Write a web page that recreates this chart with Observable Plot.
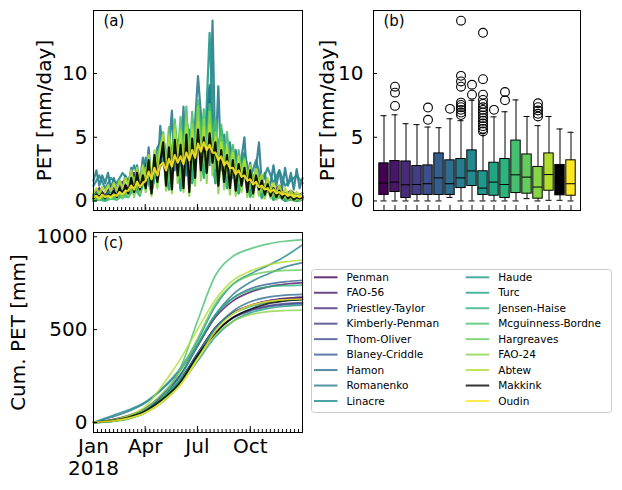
<!DOCTYPE html>
<html>
<head>
<meta charset="utf-8">
<script src="https://cdn.jsdelivr.net/npm/d3@7"></script>
<script src="https://cdn.jsdelivr.net/npm/@observablehq/plot@0.6"></script>
<style>
  body { margin: 0; background: #fff; }
  #fig { position: relative; width: 622px; height: 490px; font-family: "DejaVu Sans", sans-serif; }
</style>
</head>
<body>
<div id="fig"></div>
<script>
// ---- Methods (drawing order) ----
const methods = ["Penman", "FAO-56", "Priestley-Taylor", "Kimberly-Penman", "Thom-Oliver",
  "Blaney-Criddle", "Hamon", "Romanenko", "Linacre", "Haude", "Turc", "Jensen-Haise",
  "Mcguinness-Bordne", "Hargreaves", "FAO-24", "Abtew", "Makkink", "Oudin"];

// ---- Daily PET 2018 [mm/day], sampled evenly through the year ----
const petPenman = [0.3,0.8,0.2,0.9, 0.5,1.3, 0.8,2.0,1.0, 2.8,1.2,3.4, 4.2,1.4,4.8, 1.2,5.4,2.0, 5.8,2.4,5.2, 2.0,4.4,1.6, 3.4,1.0,2.8, 0.8,2.2,0.6,1.4, 0.5,1.0,0.3, 0.6,0.2,0.4];
const petFao56 = [0.5,1.0,0.4,1.2, 0.8,1.5, 1.0,2.2,1.2, 3.0,1.4,3.6, 4.6,1.6,5.2, 1.6,6.0,2.2, 6.6,2.8,8.9, 2.4,4.8,2.0, 3.6,1.2,3.0, 1.0,2.4,0.8,1.6, 0.7,1.2,0.5, 0.8,0.4,0.6];
const petPriestleyTaylor = [0.0,0.3,0.1,0.4, 0.2,0.8, 0.5,1.6,0.6, 2.6,0.8,3.4, 4.4,1.0,5.0, 1.0,5.8,1.6, 6.0,2.2,5.4, 1.4,4.4,1.0, 3.2,0.6,2.6, 0.4,1.8,0.3,1.0, 0.1,0.5,0.0, 0.2,0.0,0.1];
const petKimberlyPenman = [0.3,0.7,0.2,0.8, 0.4,1.1, 0.7,1.8,0.9, 2.5,1.1,3.0, 3.8,1.2,4.4, 1.1,5.0,1.8, 5.6,2.1,4.8, 1.8,4.0,1.4, 3.0,0.9,2.6, 0.7,2.0,0.5,1.3, 0.4,0.9,0.3, 0.5,0.2,0.4];
const petThomOliver = [0.3,0.7,0.2,0.8, 0.4,1.1, 0.7,1.9,0.9, 2.6,1.1,3.0, 3.9,1.2,4.5, 1.1,5.2,1.9, 5.6,2.2,7.3, 1.8,4.0,1.4, 3.0,0.9,2.6, 0.7,2.0,0.5,1.3, 0.4,0.9,0.3, 0.5,0.2,0.4];
const petBlaneyCriddle = [0.2,0.5,0.2,0.6, 0.4,1.0, 0.8,1.8,1.0, 2.6,1.4,3.4, 4.2,2.0,4.8, 2.4,5.4,3.0, 5.7,3.6,5.4, 3.2,4.6,2.6, 3.6,1.8,3.0, 1.4,2.2,0.9,1.4, 0.5,0.9,0.3, 0.4,0.2,0.3];
const petHamon = [0.3,0.5,0.3,0.6, 0.5,0.8, 0.7,1.3,0.9, 1.8,1.3,2.4, 3.0,2.2,3.6, 2.8,4.4,3.4, 5.2,4.0,6.4, 3.8,4.6,3.2, 3.2,2.4,2.8, 1.8,2.0,1.2,1.4, 0.8,0.9,0.5, 0.5,0.4,0.4];
const petRomanenko = [1.6,2.4,1.2,2.0,1.4,2.2,1.0, 1.8,0.9,1.6,1.0,2.0, 1.2,2.6,1.0,2.8,1.4,3.4, 1.6,4.2,1.2,3.0,2.0,5.9, 3.4,1.6,4.0,7.1,2.4,4.8, 2.2,7.4,2.0,5.6,1.8,6.2, 9.8,6.8,3.0,5.4,2.8,14.15, 3.2,9.0,2.4,5.2,2.0,4.6, 1.8,4.0,1.6,3.4,5.0,1.4, 3.0,1.2,2.6,4.6,1.2,2.2,1.0, 1.4,2.8,1.2,2.4,1.0,2.6, 1.2,2.2,0.9,2.5,1.0,1.8];
const petLinacre = [1.2,2.0,1.0,1.8, 1.4,2.2, 1.6,2.8,1.4, 3.4,1.8,4.2, 5.0,2.4,5.6, 2.2,6.4,3.0, 7.0,3.6,9.1, 3.2,5.6,2.8, 4.2,2.0,3.8, 1.8,3.2,1.4,2.6, 1.4,2.4,1.2, 1.6,2.0,1.4];
const petHaude = [0.4,0.8,0.3,0.9, 0.5,1.0, 0.6,1.4,0.7, 2.0,0.8,2.6, 3.2,0.9,6.0, 1.0,4.2,1.4, 7.4,1.8,13.2, 1.6,5.6,1.2, 2.4,0.8,3.0, 0.7,1.6,0.5,1.1, 0.4,0.8,0.3, 0.5,0.3,0.4];
const petTurc = [0.1,0.3,0.1,0.4, 0.3,0.7, 0.6,1.4,0.7, 2.4,0.9,3.2, 4.2,1.2,4.8, 1.2,5.6,1.8, 6.2,2.4,7.1, 1.8,4.6,1.4, 3.4,0.9,2.8, 0.6,1.8,0.4,1.1, 0.2,0.6,0.1, 0.2,0.1,0.2];
const petJensenHaise = [0.0,0.1,0.0,0.2, 0.1,0.4, 0.3,1.0,0.4, 2.2,0.6,3.2, 4.6,0.9,5.4, 0.8,6.6,1.4, 7.5,2.0,6.8, 1.4,5.2,1.0, 3.6,0.6,2.8, 0.3,1.6,0.2,0.8, 0.1,0.3,0.0, 0.1,0.0,0.1];
const petMcguinnessBordne = [0.0,0.2,0.1,0.3,0.1,0.2,0.2, 0.3,0.1,0.5,0.2,0.6, 0.4,1.2,0.5,1.6,0.8,2.0, 1.2,3.0,1.0,3.6,1.8,4.2, 5.4,2.6,5.8,2.2,6.4,3.4, 6.6,3.2,7.4,2.8,7.0,4.0, 7.9,4.6,7.2,4.2,7.6,5.0, 6.4,3.4,6.0,3.6,5.4,2.8, 4.4,2.0,4.0,2.4,3.4,1.6, 2.6,1.0,2.2,1.2,1.6,0.6,1.2, 0.4,0.8,0.3,0.6,0.2,0.4, 0.1,0.3,0.1,0.2,0.1,0.2];
const petHargreaves = [0.2,0.5,0.2,0.6, 0.4,1.0, 0.8,1.8,0.9, 2.6,1.2,3.6, 4.8,1.6,5.4, 1.8,6.2,2.6, 6.6,3.0,6.0, 2.6,5.0,2.0, 4.0,1.4,3.2, 1.0,2.4,0.7,1.4, 0.4,0.8,0.3, 0.4,0.2,0.3];
const petFao24 = [0.1,0.4,0.1,0.5,0.2,0.4,0.2, 0.6,0.2,0.8,0.3,1.0, 0.4,1.6,0.3,2.0,0.6,2.2, 0.7,3.2,0.4,3.8,1.0,4.0, 5.0,0.8,5.2,0.6,6.0,1.4, 5.6,0.7,6.6,0.4,6.0,1.2, 7.4,1.6,6.4,1.4,7.0,2.0, 5.4,0.6,4.6,0.9,4.2,0.5, 3.6,0.4,3.2,0.7,2.8,0.3, 2.4,0.3,2.0,0.4,1.6,0.2,1.2, 0.2,0.8,0.1,0.6,0.1,0.4, 0.1,0.3,0.0,0.2,0.1,0.2];
const petAbtew = [0.6,1.0,0.5,1.1,0.7,1.2,0.8, 1.4,0.8,1.6,1.0,1.8, 1.2,2.4,1.0,2.6,1.4,2.8, 1.6,3.6,1.2,4.0,2.0,4.2, 5.2,2.2,5.0,1.8,5.6,2.8, 5.4,2.0,5.8,1.6,5.6,2.6, 6.2,3.0,5.8,2.8,6.0,3.4, 5.0,2.0,4.6,2.2,4.2,1.6, 3.8,1.4,3.5,1.8,3.2,1.2, 2.8,1.0,2.5,1.2,2.1,0.8,1.8, 0.8,1.4,0.6,1.2,0.5,1.0, 0.5,0.8,0.4,0.7,0.4,0.6];
const petMakkink = [0.2,0.5,0.3,0.6,0.2,0.5,0.4, 0.8,0.3,1.0,0.5,1.2, 0.6,1.8,0.7,2.2,0.9,2.0, 1.0,3.2,0.6,3.6,1.5,3.0, 4.6,1.2,4.2,0.9,4.8,2.0, 4.4,1.0,5.2,0.7,4.9,1.8, 5.6,2.4,5.0,2.2,5.3,3.0, 4.6,1.2,4.0,1.5,3.6,1.0, 3.2,0.8,2.9,1.2,2.6,0.7, 2.4,0.6,2.0,0.9,1.6,0.5,1.3, 0.4,1.0,0.3,0.8,0.2,0.6, 0.2,0.4,0.1,0.3,0.2,0.3];
const petOudin = [0.3,0.4,0.2,0.5,0.3,0.4,0.3, 0.5,0.4,0.7,0.5,0.8, 0.8,1.2,0.9,1.5,1.1,1.4, 1.6,2.3,1.7,2.6,2.0,2.8, 3.0,2.4,3.3,2.7,3.6,3.0, 3.5,2.9,3.8,3.2,4.0,3.4, 4.5,3.9,4.6,4.0,4.4,3.8, 3.8,3.2,3.5,2.8,3.1,2.6, 2.6,2.1,2.4,1.9,2.0,1.6, 1.7,1.3,1.5,1.1,1.2,0.9,1.0, 0.7,0.9,0.6,0.7,0.5,0.6, 0.4,0.5,0.3,0.4,0.3,0.4];

// ---- Cumulative PET [mm] at the first of each month and on 31 Dec ----
const cumDates = ["2018-01-01","2018-02-01","2018-03-01","2018-04-01","2018-05-01","2018-06-01","2018-07-01",
  "2018-08-01","2018-09-01","2018-10-01","2018-11-01","2018-12-01","2018-12-31"];
const cumPenman = [0, 12, 32, 68, 135, 230, 370, 510, 590, 630, 655, 668, 675];
const cumFao56 = [0, 14, 36, 76, 150, 255, 410, 565, 655, 702, 730, 745, 753];
const cumPriestleyTaylor = [0, 6, 20, 55, 125, 225, 370, 510, 590, 630, 652, 664, 670];
const cumKimberlyPenman = [0, 12, 32, 66, 130, 222, 355, 488, 565, 605, 628, 640, 645];
const cumThomOliver = [0, 11, 30, 64, 128, 220, 352, 485, 562, 601, 624, 635, 640];
const cumBlaneyCriddle = [0, 10, 28, 66, 140, 250, 410, 575, 670, 720, 745, 758, 766];
const cumHamon = [0, 8, 22, 52, 110, 205, 350, 505, 600, 650, 675, 686, 690];
const cumRomanenko = [0, 28, 58, 105, 180, 280, 420, 580, 690, 755, 800, 838, 861];
const cumLinacre = [0, 35, 65, 110, 185, 290, 440, 625, 745, 800, 845, 895, 957];
const cumHaude = [0, 12, 30, 62, 120, 205, 330, 460, 545, 590, 614, 626, 632];
const cumTurc = [0, 8, 25, 60, 128, 225, 365, 505, 585, 625, 647, 657, 662];
const cumJensenHaise = [0, 5, 18, 52, 125, 240, 415, 580, 670, 712, 730, 737, 740];
const cumMcguinnessBordne = [0, 6, 20, 55, 135, 290, 545, 790, 895, 935, 962, 976, 983];
const cumHargreaves = [0, 10, 30, 72, 155, 275, 450, 640, 745, 792, 812, 819, 822];
const cumFao24 = [0, 6, 20, 52, 115, 205, 340, 470, 545, 580, 597, 603, 605];
const cumAbtew = [0, 12, 35, 85, 200, 340, 500, 660, 765, 815, 848, 865, 875];
const cumMakkink = [0, 10, 27, 62, 125, 215, 360, 480, 565, 610, 640, 655, 663];
const cumOudin = [0, 8, 22, 52, 110, 200, 340, 490, 585, 630, 652, 661, 665];

// ---- Box statistics of daily PET [mm/day], in method order ----
const boxQ1 = [0.47, 0.70, 0.23, 0.47, 0.47, 0.47, 0.47, 1.01, 1.17, 0.47, 0.41, 0.23, 0.62, 0.57, 0.18, 0.80, 0.44, 0.41];
const boxMedian = [1.40, 1.48, 1.27, 1.29, 1.35, 1.81, 1.35, 1.81, 2.36, 1.01, 1.48, 1.29, 2.05, 1.87, 1.09, 2.07, 1.50, 1.35];
const boxQ3 = [2.95, 3.13, 3.10, 2.74, 2.79, 3.73, 3.19, 3.29, 3.97, 2.33, 3.00, 3.29, 4.74, 3.65, 2.67, 3.73, 2.82, 3.19];
const boxLow = [0.0, 0.0, 0.0, 0.0, 0.0, 0.0, 0.28, 0.0, 0.0, 0.0, 0.0, 0.0, 0.0, 0.18, 0.0, 0.05, 0.05, 0.0];
const boxHigh = [6.69, 6.76, 6.06, 5.99, 5.80, 5.75, 6.45, 6.30, 7.90, 5.29, 6.60, 7.00, 7.93, 6.63, 5.91, 6.63, 5.65, 5.39];
const boxOutliers = [
  ["FAO-56", 7.46], ["FAO-56", 8.50], ["FAO-56", 8.97],
  ["Thom-Oliver", 6.37], ["Thom-Oliver", 7.33],
  ["Hamon", 7.23],
  ["Romanenko", 6.74], ["Romanenko", 6.94], ["Romanenko", 7.15], ["Romanenko", 7.36], ["Romanenko", 7.54],
  ["Romanenko", 7.72], ["Romanenko", 8.97], ["Romanenko", 9.38], ["Romanenko", 9.82], ["Romanenko", 14.15],
  ["Linacre", 8.34], ["Linacre", 9.12],
  ["Haude", 5.45], ["Haude", 5.66], ["Haude", 5.87], ["Haude", 6.08], ["Haude", 6.29], ["Haude", 6.50],
  ["Haude", 6.71], ["Haude", 6.94], ["Haude", 7.15], ["Haude", 7.36], ["Haude", 7.62], ["Haude", 7.93],
  ["Haude", 8.34], ["Haude", 9.56], ["Haude", 13.2],
  ["Turc", 7.15],
  ["Jensen-Haise", 7.90], ["Jensen-Haise", 8.55],
  ["FAO-24", 6.63], ["FAO-24", 6.84], ["FAO-24", 7.10], ["FAO-24", 7.36], ["FAO-24", 7.67]
];

// ---- Axis ticks ----
const petTicks = [0, 5, 10];
const cumTicks = [0, 500, 1000];
const quarterTicks = ["2018-01-01", "2018-04-01", "2018-07-01", "2018-10-01"];
const quarterLabels = ["Jan\n2018", "Apr", "Jul", "Oct"];

// ---- Series tables ----
const dailyPet = [petPenman, petFao56, petPriestleyTaylor, petKimberlyPenman, petThomOliver, petBlaneyCriddle,
  petHamon, petRomanenko, petLinacre, petHaude, petTurc, petJensenHaise, petMcguinnessBordne, petHargreaves,
  petFao24, petAbtew, petMakkink, petOudin];
const cumPet = [cumPenman, cumFao56, cumPriestleyTaylor, cumKimberlyPenman, cumThomOliver, cumBlaneyCriddle,
  cumHamon, cumRomanenko, cumLinacre, cumHaude, cumTurc, cumJensenHaise, cumMcguinnessBordne, cumHargreaves,
  cumFao24, cumAbtew, cumMakkink, cumOudin];

const DAY = 864e5;
const yearStart = Date.UTC(2018, 0, 1);
const yearEnd = Date.UTC(2018, 11, 31);
const xDomain = [new Date(yearStart), new Date(yearEnd)];

const dailyRows = methods.flatMap((m, k) => {
  const vals = dailyPet[k];
  const step = 364 / (vals.length - 1);
  return vals.map((v, i) => ({method: m, date: new Date(yearStart + i * step * DAY), pet: v}));
});
const cumRows = methods.flatMap((m, k) =>
  cumPet[k].map((v, i) => ({method: m, date: new Date(cumDates[i]), cum: v})));
const boxRows = methods.map((m, i) => ({method: m, q1: boxQ1[i], med: boxMedian[i], q3: boxQ3[i], lo: boxLow[i], hi: boxHigh[i]}));
const outlierRows = boxOutliers.map(([m, v]) => ({method: m, pet: v}));

// viridis across the methods, Makkink in black
const methodColors = methods.map((m, i) => m === "Makkink" ? "#000000" : d3.interpolateViridis(i / 17));
const colorScale = {domain: methods, range: methodColors};

const qTicks = quarterTicks.map((d) => new Date(d));
const weekTicks = d3.utcMonday.range(new Date(yearStart), new Date(yearEnd));
const petDomain = [-0.75, 14.95];

const baseStyle = {fontFamily: "DejaVu Sans", fontSize: "20px", color: "#000", background: "none", overflow: "visible"};
const fig = document.getElementById("fig");
function place(el, left, top) {
  el.style.position = "absolute";
  el.style.left = left + "px";
  el.style.top = top + "px";
  fig.appendChild(el);
}
const panelTag = (s, dx, dy) => Plot.text([s], {text: (d) => d, frameAnchor: "top-left", dx, dy,
  textAnchor: "start", lineAnchor: "top", fontSize: 15});

// (a) daily PET time series
const panelA = Plot.plot({
  width: 310, height: 220, marginLeft: 93, marginRight: 8, marginTop: 10, marginBottom: 10,
  style: baseStyle,
  x: {type: "utc", domain: xDomain},
  y: {domain: petDomain},
  color: colorScale,
  marks: [
    Plot.lineY(dailyRows, {x: "date", y: "pet", z: "method", stroke: "method", strokeWidth: 2.2, strokeOpacity: 0.9}),
    Plot.frame({stroke: "#000"}),
    Plot.axisY(petTicks, {anchor: "left", tickSize: -4, tickPadding: 10, label: "PET [mm/day]",
      labelAnchor: "center", labelArrow: "none", labelOffset: 57}),
    Plot.axisX(weekTicks, {anchor: "bottom", tickSize: -3, tickFormat: () => "", label: null}),
    Plot.axisX(qTicks, {anchor: "bottom", tickSize: -6, tickFormat: () => "", label: null}),
    panelTag("(a)", 10, 5)
  ]
});
place(panelA, 0, 0);

// (b) box plots per method
const panelB = Plot.plot({
  width: 312, height: 220, marginLeft: 63, marginRight: 42, marginTop: 10, marginBottom: 10,
  style: baseStyle,
  x: {type: "band", domain: methods, padding: 0},
  y: {domain: petDomain},
  color: colorScale,
  marks: [
    Plot.ruleX(boxRows, {x: "method", y1: "lo", y2: "hi", stroke: "#000"}),
    Plot.tickY(boxRows, {x: "method", y: "lo", stroke: "#000", insetLeft: 2.5, insetRight: 2.5}),
    Plot.tickY(boxRows, {x: "method", y: "hi", stroke: "#000", insetLeft: 2.5, insetRight: 2.5}),
    Plot.barY(boxRows, {x: "method", y1: "q1", y2: "q3", fill: "method", stroke: "#000", insetLeft: 0.8, insetRight: 0.8}),
    Plot.tickY(boxRows, {x: "method", y: "med", stroke: "#000", insetLeft: 0.8, insetRight: 0.8}),
    Plot.dot(outlierRows, {x: "method", y: "pet", r: 4.4, stroke: "#000", fill: "none", strokeWidth: 1.1}),
    Plot.frame({stroke: "#000"}),
    Plot.axisY(petTicks, {anchor: "left", tickSize: -4, tickPadding: 14, label: "PET [mm/day]",
      labelAnchor: "center", labelArrow: "none", labelOffset: 54}),
    Plot.axisX({anchor: "bottom", tickSize: -5, tickFormat: () => "", label: null}),
    panelTag("(b)", 10, 5)
  ]
});
place(panelB, 310, 0);

// (c) cumulative PET
const panelC = Plot.plot({
  width: 310, height: 270, marginLeft: 93, marginRight: 8, marginTop: 12, marginBottom: 58,
  style: baseStyle,
  x: {type: "utc", domain: xDomain},
  y: {domain: [-54, 1023]},
  color: colorScale,
  marks: [
    Plot.line(cumRows, {x: "date", y: "cum", z: "method", stroke: "method", strokeWidth: 1.7, strokeOpacity: 0.8, curve: "monotone-x"}),
    Plot.frame({stroke: "#000"}),
    Plot.axisY(cumTicks, {anchor: "left", tickSize: -4, tickPadding: 10, tickFormat: (d) => String(d),
      label: "Cum. PET [mm]", labelAnchor: "center", labelArrow: "none", labelOffset: 83}),
    Plot.axisX(weekTicks, {anchor: "bottom", tickSize: -3, tickFormat: () => "", label: null}),
    Plot.axisX(qTicks, {anchor: "bottom", tickSize: -6, tickPadding: 11, lineHeight: 1.1,
      tickFormat: (d, i) => quarterLabels[i], label: null}),
    panelTag("(c)", 10, 5)
  ]
});
place(panelC, 0, 220);

// legend, two columns
const legendCols = 2, legendRows = Math.ceil(methods.length / legendCols);
const legend = d3.create("svg").attr("width", 302).attr("height", 145)
  .style("font-family", "DejaVu Sans").style("font-size", "10.5px");
legend.append("rect").attr("x", 0.5).attr("y", 0.5).attr("width", 300).attr("height", 143)
  .attr("rx", 3).attr("fill", "#fff").attr("stroke", "#cccccc");
const entry = legend.selectAll("g").data(methods).join("g")
  .attr("transform", (d, i) => `translate(${3 + Math.floor(i / legendRows) * 151.7},${8.3 + (i % legendRows) * 15.46})`);
entry.append("line").attr("x1", 0).attr("x2", 23.5).attr("y1", 0).attr("y2", 0)
  .attr("stroke", (d, i) => methodColors[i]).attr("stroke-opacity", 0.8).attr("stroke-width", 2);
entry.append("text").attr("x", 32.5).attr("y", 0).attr("dy", "0.35em").attr("fill", "#000").text((d) => d);
place(legend.node(), 311, 269);
</script>
</body>
</html>
